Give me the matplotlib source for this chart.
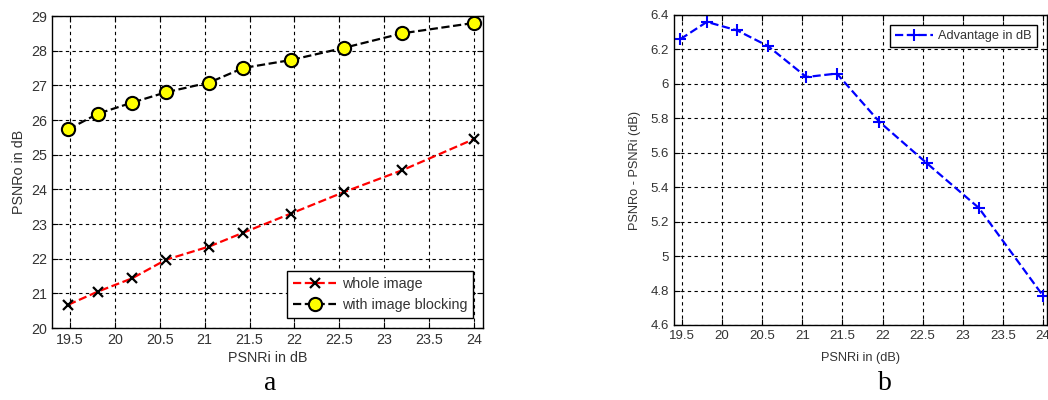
import matplotlib.pyplot as plt

# data
psnri = [19.48, 19.81, 20.19, 20.57, 21.05, 21.43, 21.96, 22.55, 23.2, 24.0]
whole = [20.67, 21.05, 21.43, 21.97, 22.35, 22.75, 23.3, 23.92, 24.55, 25.45]
blocking = [25.73, 26.18, 26.5, 26.8, 27.08, 27.5, 27.73, 28.08, 28.5, 28.8]
advantage = [6.26, 6.36, 6.31, 6.22, 6.04, 6.06, 5.78, 5.54, 5.28, 4.77]

xticks = [19.5, 20, 20.5, 21, 21.5, 22, 22.5, 23, 23.5, 24]
xticklabels = ['19.5', '20', '20.5', '21', '21.5', '22', '22.5', '23', '23.5', '24']

plt.rcParams['font.family'] = ['Liberation Sans', 'DejaVu Sans']
plt.rcParams['font.size'] = 10

W, H = 1048, 400
fig = plt.figure(figsize=(W / 100, H / 100), dpi=100)


def px_axes(x0, y0, x1, y1):
    return fig.add_axes([x0 / W, 1 - y1 / H, (x1 - x0) / W, (y1 - y0) / H])


def style(ax, fs):
    ax.grid(True, color='black', linestyle=(0, (3, 3)), linewidth=0.8)
    ax.tick_params(direction='in', top=True, right=True, labelcolor='#333333',
                   labelsize=fs, length=4)
    for s in ax.spines.values():
        s.set_linewidth(1.0)
    ax.set_xticks(xticks)
    ax.set_xticklabels(xticklabels)


# panel a
fs1 = 10.3
ax1 = px_axes(52, 16, 483, 328)
ax1.plot(psnri, whole, color='red', linestyle='--', linewidth=1.6,
         marker='x', markersize=7, markeredgecolor='black', markeredgewidth=1.6,
         label='whole image')
ax1.plot(psnri, blocking, color='black', linestyle='--', linewidth=1.6,
         marker='o', markersize=9.5, markerfacecolor='yellow', markeredgecolor='black',
         markeredgewidth=1.5, label='with image blocking')
ax1.set_xlim(19.3, 24.1)
ax1.set_ylim(20, 29)
ax1.set_yticks(range(20, 30))
style(ax1, fs1)
ax1.set_xlabel('PSNRi in dB', color='#333333', fontsize=fs1, labelpad=3)
ax1.set_ylabel('PSNRo in dB', color='#333333', fontsize=fs1, labelpad=4)
leg1 = ax1.legend(loc='lower right', fancybox=False, edgecolor='black', framealpha=1,
                  fontsize=fs1, handlelength=3, handletextpad=0.4,
                  borderaxespad=0.7)
for t in leg1.get_texts():
    t.set_color('#333333')

# panel b
fs2 = 9.5
fs2b = 9.2
ax2 = px_axes(674, 15, 1047, 325)
ax2.plot(psnri, advantage, color='blue', linestyle='--', linewidth=1.6,
         marker='+', markersize=9, markeredgewidth=1.5, label='Advantage in dB')
ax2.set_xlim(19.4, 24.05)
ax2.set_ylim(4.6, 6.4)
ax2.set_yticks([4.6, 4.8, 5, 5.2, 5.4, 5.6, 5.8, 6, 6.2, 6.4])
ax2.set_yticklabels(['4.6', '4.8', '5', '5.2', '5.4', '5.6', '5.8', '6', '6.2', '6.4'])
style(ax2, fs2)
ax2.set_xlabel('PSNRi in (dB)', color='#333333', fontsize=fs2b, labelpad=7)
ax2.set_ylabel('PSNRo - PSNRi (dB)', color='#333333', fontsize=fs2b, labelpad=7)
leg2 = ax2.legend(loc='upper right', fancybox=False, edgecolor='black', framealpha=1,
                  fontsize=fs2b, handlelength=3, handletextpad=0.4,
                  borderaxespad=0.8)
for t in leg2.get_texts():
    t.set_color('#333333')

# sub-figure letters
fig.text(270 / W, 1 - 383 / H, 'a', family='Liberation Serif', fontsize=20,
         ha='center', va='center')
fig.text(885 / W, 1 - 383 / H, 'b', family='Liberation Serif', fontsize=20,
         ha='center', va='center')

fig.savefig('out.png', dpi=100)
